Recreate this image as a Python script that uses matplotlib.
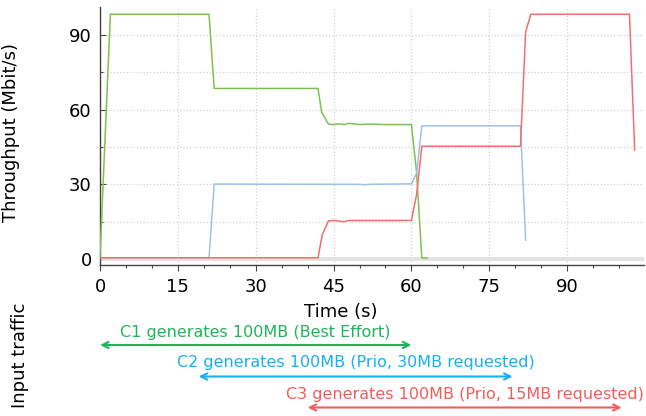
import matplotlib
matplotlib.use("Agg")
import matplotlib.pyplot as plt
from matplotlib.ticker import MultipleLocator
import matplotlib.transforms as mtransforms

# ---- data ----
t_c1 = [0, 2, 21, 22, 42, 42.7, 44, 45, 46, 47, 48, 50, 52, 55, 58, 60, 61, 62, 63]
v_c1 = [1, 98.3, 98.3, 68.5, 68.5, 59, 54.2, 54, 54.3, 54, 54.5, 54, 54.2, 54, 54, 54, 34.5, 0.4, 0.4]

t_c2 = [0, 21, 22, 45, 50, 51, 52, 60, 61, 62, 81, 82]
v_c2 = [0.5, 0.5, 30.1, 30, 30, 29.8, 30, 30.2, 34.5, 53.5, 53.5, 7.6]

t_c3 = [0, 42, 42.8, 44, 45, 46, 47, 48, 60, 61, 62, 81, 82, 83, 102, 103]
v_c3 = [0.5, 0.5, 9.6, 15.3, 15.5, 15.2, 15, 15.5, 15.5, 26, 45.3, 45.3, 91.3, 98.3, 98.3, 43.8]

traffic_labels = ["C1 generates 100MB (Best Effort)",
                  "C2 generates 100MB (Prio, 30MB requested)",
                  "C3 generates 100MB (Prio, 15MB requested)"]
traffic_start = [0, 19, 40]
traffic_end = [60, 79.5, 100.5]

line_colors = ["#80c050", "#a0c0e8", "#f07070"]
text_colors = ["#20b458", "#18b0ee", "#f45c5c"]

# ---- figure ----
W, H = 646, 416
fig = plt.figure(figsize=(W / 100, H / 100), dpi=100)
ax = fig.add_axes([100 / W, 1 - 265 / H, 544 / W, (265 - 7.3) / H])

ax.axhline(0, color="#e2e2e2", lw=2.8, zorder=1)
for t, v, c in zip([t_c1, t_c2, t_c3], [v_c1, v_c2, v_c3], line_colors):
    ax.plot(t, v, color=c, lw=1.1, zorder=3)

ax.set_xlim(0, 104.8)
ax.set_ylim(-2.4, 101.1)
ax.xaxis.set_major_locator(MultipleLocator(15))
ax.xaxis.set_minor_locator(MultipleLocator(5))
ax.yaxis.set_major_locator(MultipleLocator(30))
ax.yaxis.set_minor_locator(MultipleLocator(15))

ax.grid(True, which="major", axis="x", color="#d4d4d4", ls=":", lw=0.9)
ax.grid(True, which="both", axis="y", color="#d4d4d4", ls=":", lw=0.9)
ax.set_axisbelow(True)

for s in ["top", "right"]:
    ax.spines[s].set_visible(False)
for s in ["left", "bottom"]:
    ax.spines[s].set_color("#444444")
    ax.spines[s].set_linewidth(1.0)

ax.tick_params(axis="both", which="major", labelsize=13, colors="#444444",
               labelcolor="black", length=4, width=0.8)
ax.tick_params(axis="both", which="minor", colors="#444444", length=2, width=0.8)
ax.tick_params(axis="x", which="both", direction="out", pad=5)
ax.tick_params(axis="y", which="both", direction="in", pad=6)

ax.set_ylabel("Throughput (Mbit/s)", fontsize=13)
ax.yaxis.set_label_coords(-(100 - 20) / 544, (265 - 133) / (265 - 7.3))

fig.text(341 / W, 1 - 312 / H, "Time (s)", fontsize=13, ha="center", va="center")
fig.text(20 / W, 1 - 355 / H, "Input traffic", fontsize=13, ha="center",
         va="center", rotation=90)

trans = mtransforms.blended_transform_factory(ax.transData, fig.transFigure)
arrow_y = [345, 376.5, 407.5]
text_y = [332, 363, 395]
for lab, s, e, c, ay, ty in zip(traffic_labels, traffic_start, traffic_end,
                                 text_colors, arrow_y, text_y):
    ax.annotate("", xy=(e, 1 - ay / H), xytext=(s, 1 - ay / H),
                xycoords=trans, textcoords=trans,
                arrowprops=dict(arrowstyle="<->,head_length=0.45,head_width=0.22",
                                color=c, lw=1.5, shrinkA=0, shrinkB=0),
                annotation_clip=False)
    ax.text((s + e) / 2, 1 - ty / H, lab, transform=trans, color=c,
            fontsize=11.5, ha="center", va="center", clip_on=False)

fig.savefig("out.png", dpi=100)
